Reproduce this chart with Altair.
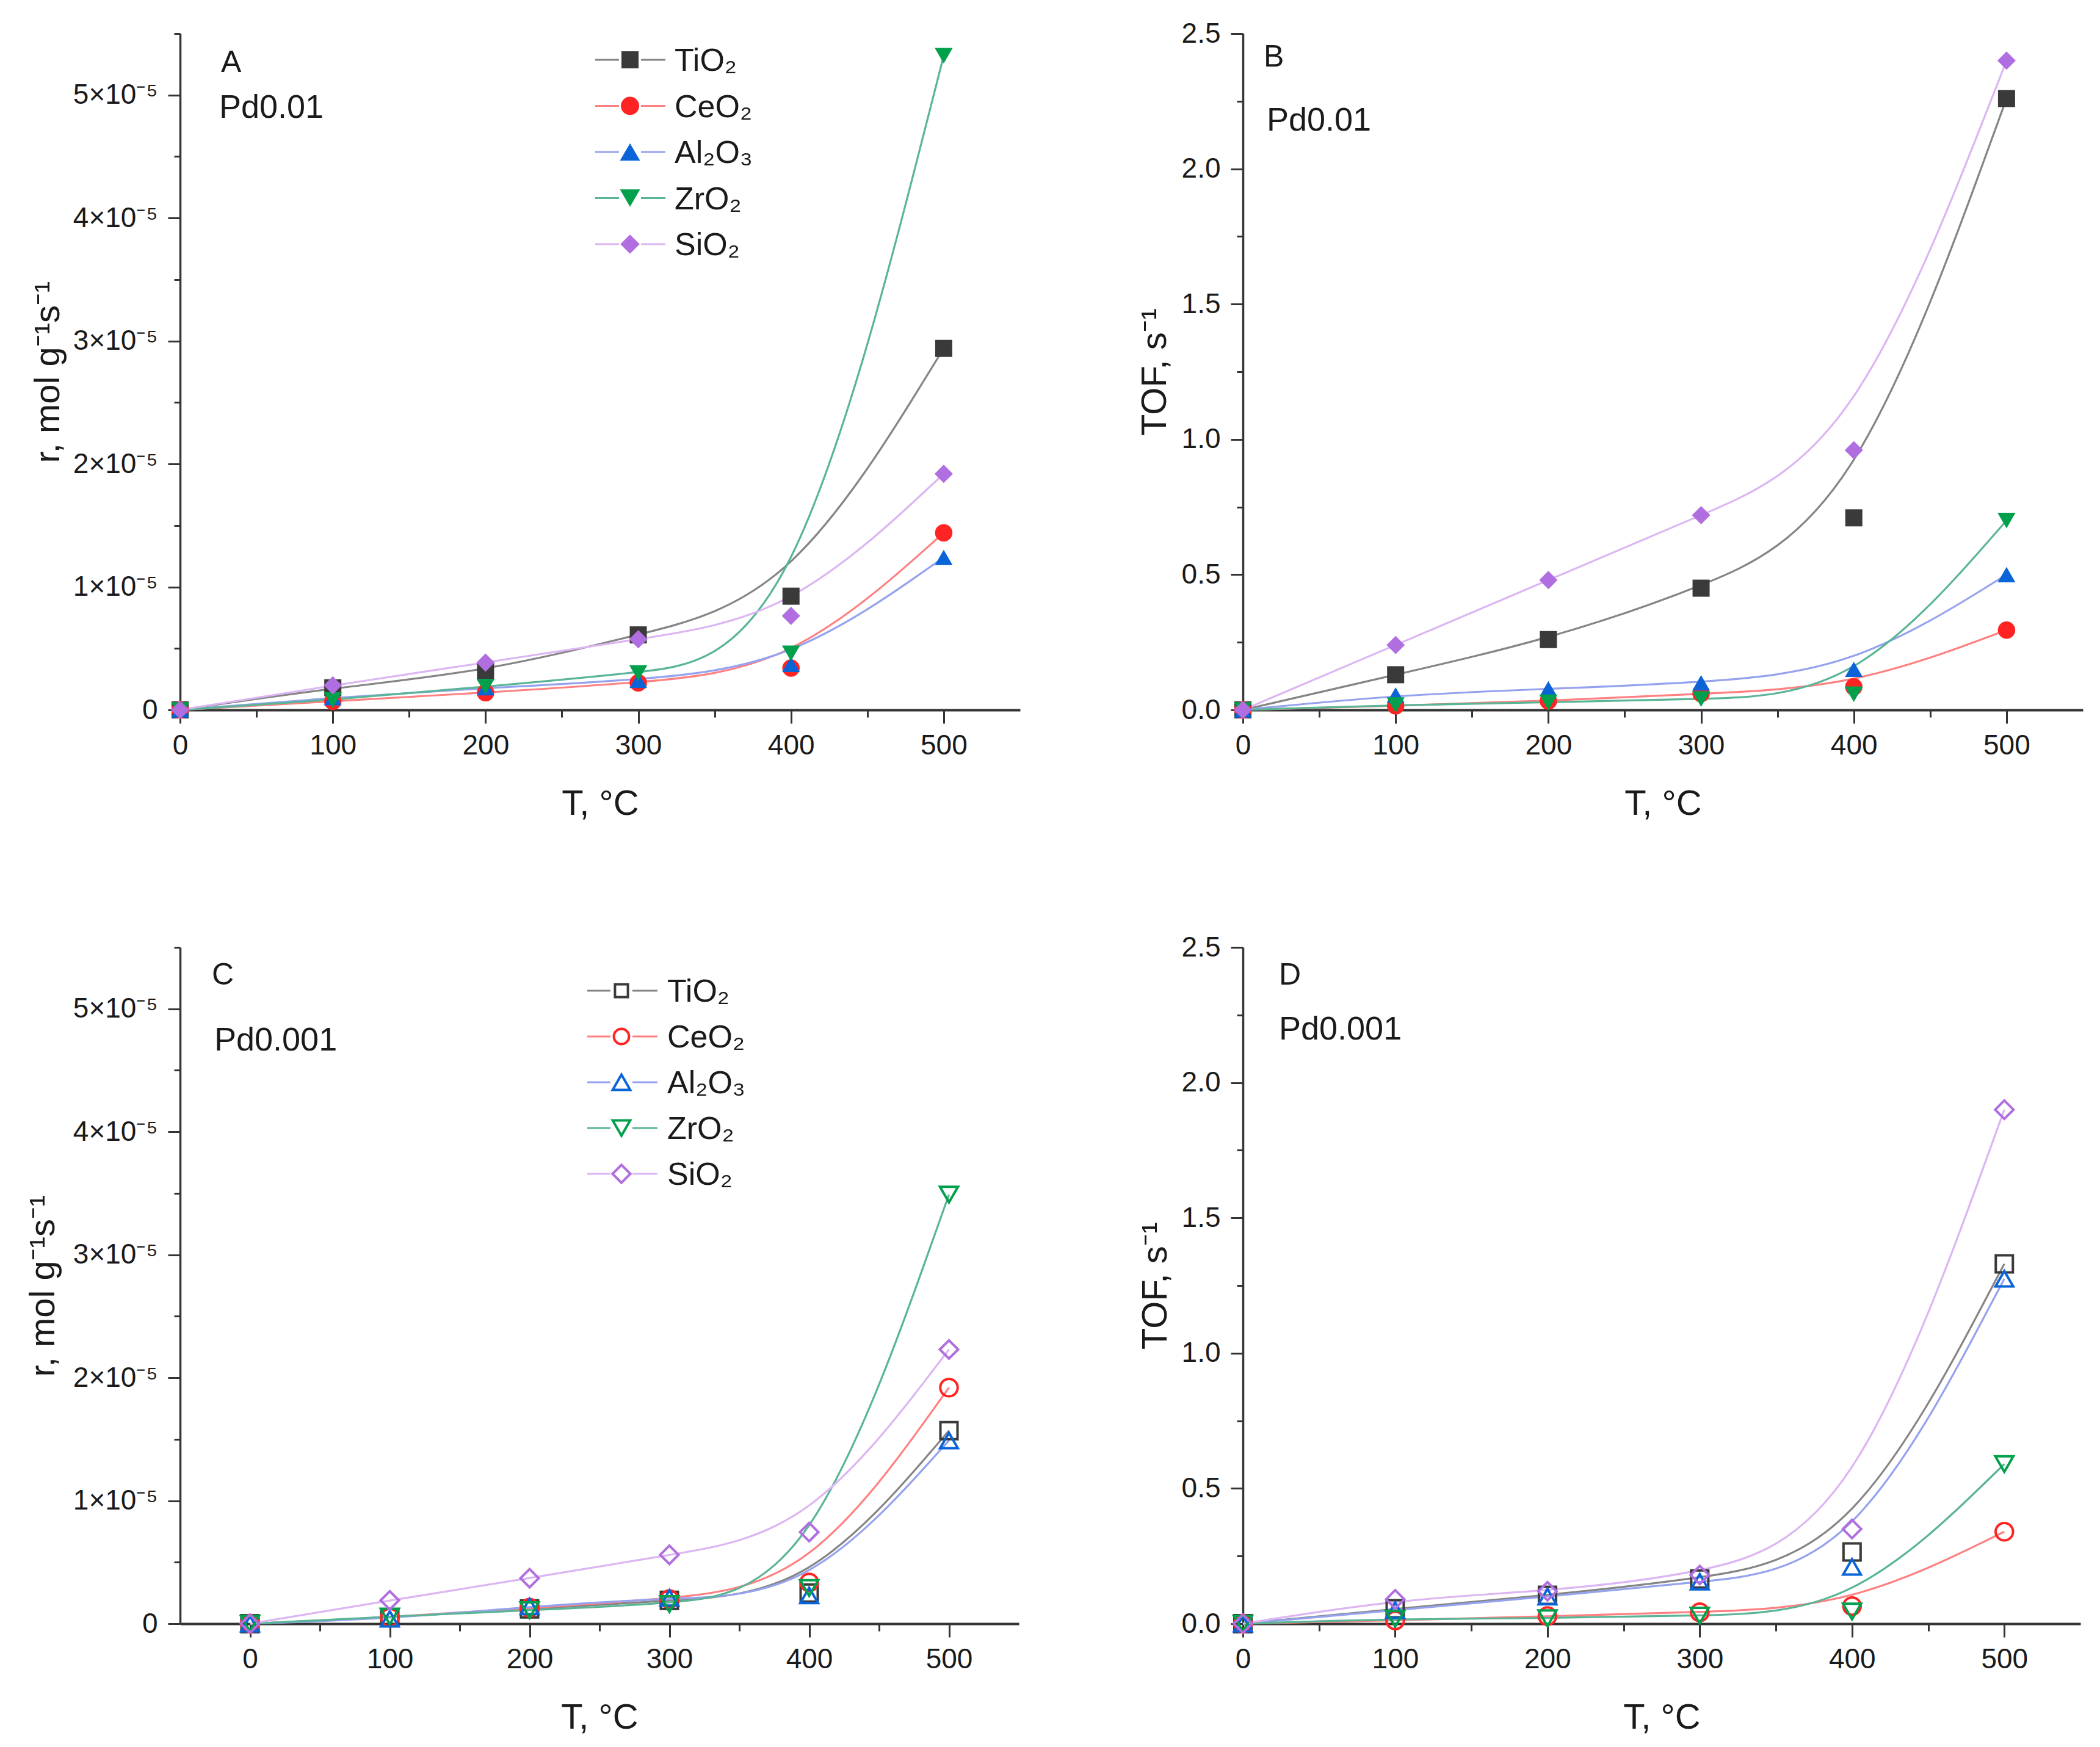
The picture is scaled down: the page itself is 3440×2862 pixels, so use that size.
import altair as alt
import pandas as pd

# ---------------- data ----------------
T = [0, 100, 200, 300, 400, 500]
materials = ["TiO₂", "CeO₂", "Al₂O₃", "ZrO₂", "SiO₂"]

# Panel A: r, mol g-1 s-1  (Pd0.01)
rA_TiO2 = [0, 0.18e-5, 0.31e-5, 0.61e-5, 0.925e-5, 2.94e-5]
rA_CeO2 = [0, 0.07e-5, 0.14e-5, 0.22e-5, 0.34e-5, 1.44e-5]
rA_Al2O3 = [0, 0.10e-5, 0.18e-5, 0.24e-5, 0.37e-5, 1.24e-5]
rA_ZrO2 = [0, 0.08e-5, 0.19e-5, 0.30e-5, 0.46e-5, 5.32e-5]
rA_SiO2 = [0, 0.20e-5, 0.385e-5, 0.575e-5, 0.765e-5, 1.92e-5]

# Panel B: TOF, s-1  (Pd0.01)
tofB_TiO2 = [0, 0.13, 0.26, 0.45, 0.71, 2.26]
tofB_CeO2 = [0, 0.015, 0.033, 0.06, 0.085, 0.295]
tofB_Al2O3 = [0, 0.055, 0.078, 0.10, 0.15, 0.50]
tofB_ZrO2 = [0, 0.018, 0.028, 0.04, 0.058, 0.70]
tofB_SiO2 = [0, 0.24, 0.48, 0.72, 0.96, 2.40]

# Panel C: r, mol g-1 s-1  (Pd0.001)
rC_TiO2 = [0, 0.05e-5, 0.12e-5, 0.19e-5, 0.25e-5, 1.57e-5]
rC_CeO2 = [0, 0.05e-5, 0.13e-5, 0.20e-5, 0.335e-5, 1.92e-5]
rC_Al2O3 = [0, 0.04e-5, 0.14e-5, 0.21e-5, 0.23e-5, 1.49e-5]
rC_ZrO2 = [0, 0.058e-5, 0.11e-5, 0.16e-5, 0.29e-5, 3.49e-5]
rC_SiO2 = [0, 0.19e-5, 0.37e-5, 0.56e-5, 0.745e-5, 2.23e-5]

# Panel D: TOF, s-1  (Pd0.001)
tofD_TiO2 = [0, 0.055, 0.105, 0.165, 0.265, 1.33]
tofD_CeO2 = [0, 0.012, 0.028, 0.042, 0.065, 0.34]
tofD_Al2O3 = [0, 0.05, 0.10, 0.155, 0.21, 1.275]
tofD_ZrO2 = [0, 0.018, 0.02, 0.03, 0.045, 0.59]
tofD_SiO2 = [0, 0.09, 0.12, 0.18, 0.35, 1.90]

x_ticks = [0, 100, 200, 300, 400, 500]
x_minor = [50, 150, 250, 350, 450]
r_ticks = [0, 1e-5, 2e-5, 3e-5, 4e-5, 5e-5]
r_minor = [0.5e-5, 1.5e-5, 2.5e-5, 3.5e-5, 4.5e-5, 5.5e-5]
tof_ticks = [0, 0.5, 1.0, 1.5, 2.0, 2.5]
tof_minor = [0.25, 0.75, 1.25, 1.75, 2.25]

# ---------------- styles ----------------
FONT = "Liberation Sans"
AX = "#333333"
TXT = "#1a1a1a"
marker_colors = ["#3a3a3a", "#ff2424", "#0a64d8", "#00a04c", "#b06ee0"]
line_colors = ["#858585", "#ff8080", "#95a3ee", "#5ab596", "#dcb6f2"]
shapes = ["square", "circle", "triangle-up", "triangle-down", "diamond"]
sizes_filled = [784, 900, 1100, 1100, 1000]
sizes_open = [450, 620, 820, 820, 850]


def frame(series):
    rows = []
    for m, vals in zip(materials, series):
        for t, v in zip(T, vals):
            rows.append({"T": t, "value": v, "material": m})
    return pd.DataFrame(rows)


def text_layer(txt, x, y, size):
    return alt.Chart(pd.DataFrame({"label": [txt]})).mark_text(
        align="left", baseline="alphabetic", fontSize=size, font=FONT, color=TXT
    ).encode(x=alt.value(x), y=alt.value(y), text="label:N")


def legend_layers(x1, x2, xm, xt, y0, dy, filled, sizes):
    layers = []
    for k, m in enumerate(materials):
        y = y0 + dy * k
        c = alt.Chart(pd.DataFrame({"label": [m]}))
        gap = 18
        layers.append(c.mark_rule(strokeWidth=3, color=line_colors[k]).encode(
            x=alt.value(x1), x2=alt.value(xm - gap), y=alt.value(y)))
        layers.append(c.mark_rule(strokeWidth=3, color=line_colors[k]).encode(
            x=alt.value(xm + gap), x2=alt.value(x2), y=alt.value(y)))
        if filled:
            pm = c.mark_point(shape=shapes[k], size=sizes[k], filled=True,
                              color=marker_colors[k], opacity=1)
        else:
            pm = c.mark_point(shape=shapes[k], size=sizes[k], filled=False,
                              color=marker_colors[k], opacity=1, strokeWidth=4)
        layers.append(pm.encode(x=alt.value(xm), y=alt.value(y)))
        layers.append(c.mark_text(align="left", baseline="middle", fontSize=52,
                                  font=FONT, color=TXT, dy=2).encode(
            x=alt.value(xt), y=alt.value(y), text="label:N"))
    return layers


def panel(df, xdom, ydom, yvals, yminor, ylabel_expr, ytitle, y_ext, y_tpad,
          filled, width, height, texts, legend=None):
    xs = alt.Scale(domain=xdom, nice=False, zero=False)
    ys = alt.Scale(domain=ydom, nice=False, zero=False)
    common = dict(domainColor=AX, tickColor=AX, labelColor=TXT, titleColor=TXT,
                  grid=False, labelFont=FONT, titleFont=FONT)
    xaxis = alt.Axis(values=x_ticks, format="d", title="T, °C", titleFontSize=58,
                     titleFontWeight="normal", titlePadding=43, labelFontSize=46,
                     labelPadding=14, tickSize=22, tickWidth=3, domainWidth=4,
                     minExtent=82, maxExtent=82, labelFlush=False,
                     labelOverlap=False, orient="bottom", **common)
    yaxis = alt.Axis(values=yvals, labelExpr=ylabel_expr, title=ytitle,
                     titleFontSize=58, titleFontWeight="normal", titlePadding=y_tpad,
                     labelFontSize=46, labelPadding=17, tickSize=20, tickWidth=3,
                     domainWidth=3.5, minExtent=y_ext, maxExtent=y_ext,
                     labelOverlap=False, orient="left", **common)
    base = alt.Chart(df)
    lines = base.mark_line(interpolate="basis", strokeWidth=3.2).encode(
        x=alt.X("T:Q", scale=xs, axis=xaxis),
        y=alt.Y("value:Q", scale=ys, axis=yaxis),
        stroke=alt.Stroke("material:N", scale=alt.Scale(domain=materials, range=line_colors),
                          legend=None),
    )
    if filled:
        pmark = base.mark_point(filled=True, opacity=1)
        sizes = sizes_filled
    else:
        pmark = base.mark_point(filled=False, opacity=1, strokeWidth=4)
        sizes = sizes_open
    pts = pmark.encode(
        x=alt.X("T:Q", scale=xs, axis=None),
        y=alt.Y("value:Q", scale=ys, axis=None),
        color=alt.Color("material:N", scale=alt.Scale(domain=materials, range=marker_colors),
                        legend=None),
        shape=alt.Shape("material:N", scale=alt.Scale(domain=materials, range=shapes),
                        legend=None),
        size=alt.Size("material:N", scale=alt.Scale(domain=materials, range=sizes),
                      legend=None),
    )
    minor = base.mark_point(opacity=0).encode(
        x=alt.X("T:Q", scale=xs, axis=alt.Axis(values=x_minor, labels=False, domain=False,
                                               tickSize=12, tickWidth=3, tickColor=AX,
                                               title=None, grid=False, orient="bottom",
                                               minExtent=0, maxExtent=0)),
        y=alt.Y("value:Q", scale=ys, axis=alt.Axis(values=yminor, labels=False, domain=False,
                                                   tickSize=10, tickWidth=3, tickColor=AX,
                                                   title=None, grid=False, orient="left",
                                                   minExtent=0, maxExtent=0)),
    )
    layers = [lines, pts, minor]
    for (txt, x, y, s) in texts:
        layers.append(text_layer(txt, x, y, s))
    if legend is not None:
        layers.extend(legend)
    return alt.layer(*layers).resolve_axis(x="independent", y="independent").properties(
        width=width, height=height)


r_expr = "datum.value == 0 ? '0' : format(datum.value * 1e5, '.0f') + '×10⁻⁵'"
tof_expr = "format(datum.value, '.1f')"

pA = panel(frame([rA_TiO2, rA_CeO2, rA_Al2O3, rA_ZrO2, rA_SiO2]),
           [0, 550], [0, 5.5e-5], r_ticks, r_minor, r_expr, "r, mol g⁻¹s⁻¹",
           180, 7, True, 1376, 1108,
           [("A", 67, 63, 50), ("Pd0.01", 64, 138, 54)],
           legend_layers(680, 795, 737, 810, 43, 75.5, True, sizes_filled))

pB = panel(frame([tofB_TiO2, tofB_CeO2, tofB_Al2O3, tofB_ZrO2, tofB_SiO2]),
           [0, 550], [0, 2.5], tof_ticks, tof_minor, tof_expr, "TOF, s⁻¹",
           100, 15, True, 1376, 1108,
           [("B", 34, 54, 50), ("Pd0.01", 39, 159, 54)])

pC = panel(frame([rC_TiO2, rC_CeO2, rC_Al2O3, rC_ZrO2, rC_SiO2]),
           [-50, 550], [0, 5.5e-5], r_ticks, r_minor, r_expr, "r, mol g⁻¹s⁻¹",
           180, 15, False, 1374, 1108,
           [("C", 52, 61, 50), ("Pd0.001", 56, 169, 54)],
           legend_layers(667, 782, 723, 798, 71, 75, False, sizes_open))

pD = panel(frame([tofD_TiO2, tofD_CeO2, tofD_Al2O3, tofD_ZrO2, tofD_SiO2]),
           [0, 550], [0, 2.5], tof_ticks, tof_minor, tof_expr, "TOF, s⁻¹",
           100, 14, False, 1372, 1108,
           [("D", 59, 61, 50), ("Pd0.001", 59, 151, 54)])

row1 = alt.hconcat(pA, pB, spacing=365, bounds="flush")
row2 = alt.hconcat(pC, pD, spacing=367, bounds="flush")
chart = alt.vconcat(row1, row2, spacing=183, bounds="full").properties(
    padding={"left": 42, "top": 32, "right": 20, "bottom": 10}
).configure(font=FONT, background="white").configure_view(stroke=None)

chart.save("out.html", embed_options={"renderer": "svg", "actions": False})
